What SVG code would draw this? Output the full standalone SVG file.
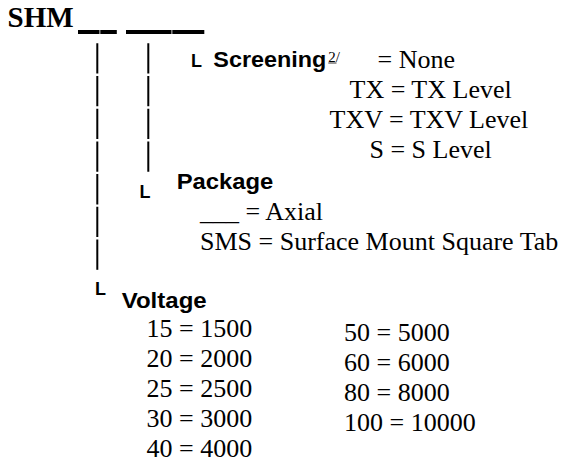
<svg xmlns="http://www.w3.org/2000/svg" width="570" height="464" viewBox="0 0 570 464">
<style>
.ser{font-family:"Liberation Serif","Times New Roman",serif;font-size:26px;fill:#000}
.hd{font-family:"Liberation Sans",Arial,sans-serif;font-weight:bold;font-size:22px;fill:#000}
.el{font-family:"Liberation Sans",Arial,sans-serif;font-weight:bold;font-size:18px;fill:#000}
.vl{stroke:#000;stroke-width:2;fill:none;stroke-dasharray:30.3 2.4}
</style>
<rect width="570" height="464" fill="#fff"/>
<g id="title">
<text x="7.5" y="26.7" font-family="Liberation Serif,Times New Roman,serif" font-weight="bold" font-size="29" fill="#000">SHM</text>
<rect x="78" y="30" width="21.5" height="4" fill="#000"/>
<rect x="100.3" y="30" width="16.5" height="4" fill="#000"/>
<rect x="126" y="30" width="45.5" height="4" fill="#000"/>
<rect x="172.3" y="30" width="32" height="4" fill="#000"/>
</g>
<g id="connectors">
<line class="vl" x1="97.3" y1="43.3" x2="97.3" y2="270"/>
<line class="vl" x1="148.3" y1="43.3" x2="148.3" y2="173"/>
</g>
<g id="screening">
<text class="el" x="191" y="67">L</text>
<text class="hd" x="213.3" y="66.7" textLength="113" lengthAdjust="spacingAndGlyphs">Screening</text>
<text x="328.3" y="61.5" font-family="Liberation Serif,Times New Roman,serif" font-size="15" fill="#000">2/</text>
<line x1="328.3" y1="63" x2="336.5" y2="63" stroke="#000" stroke-width="0.8"/>
<text class="ser" x="377.5" y="68">= None</text>
<text class="ser" x="349.5" y="97.5">TX = TX Level</text>
<text class="ser" x="329.5" y="127.5">TXV = TXV Level</text>
<text class="ser" x="369.5" y="158">S = S Level</text>
</g>
<g id="package">
<text class="el" x="139.5" y="197.5">L</text>
<text class="hd" x="176.7" y="189" textLength="96.6" lengthAdjust="spacingAndGlyphs">Package</text>
<text class="ser" x="200" y="220">___ = Axial</text>
<text class="ser" x="200" y="250">SMS = Surface Mount Square Tab</text>
</g>
<g id="voltage">
<text class="el" x="95" y="295">L</text>
<text class="hd" x="121.7" y="308.3" textLength="85" lengthAdjust="spacingAndGlyphs">Voltage</text>
<text class="ser" x="146.5" y="337.3">15 = 1500</text>
<text class="ser" x="146.5" y="367.3">20 = 2000</text>
<text class="ser" x="146.5" y="397.3">25 = 2500</text>
<text class="ser" x="146.5" y="427.3">30 = 3000</text>
<text class="ser" x="146.5" y="457.3">40 = 4000</text>
<text class="ser" x="344" y="340.7">50 = 5000</text>
<text class="ser" x="344" y="370.7">60 = 6000</text>
<text class="ser" x="344" y="400.7">80 = 8000</text>
<text class="ser" x="344" y="430.7">100 = 10000</text>
</g>
</svg>
